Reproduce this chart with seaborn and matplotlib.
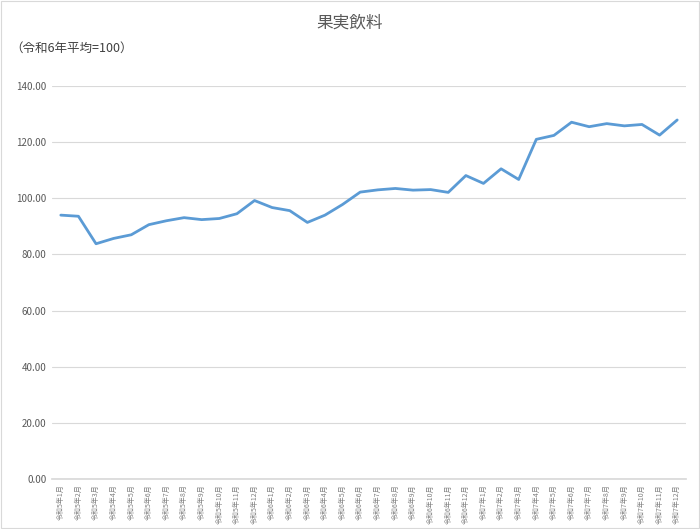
import numpy as np
import pandas as pd
import matplotlib
matplotlib.use("Agg")
import matplotlib.pyplot as plt
import seaborn as sns

# data
months = ([f"令和5年{m}月" for m in range(1, 13)]
          + [f"令和6年{m}月" for m in range(1, 13)]
          + [f"令和7年{m}月" for m in range(1, 13)])
index_values = [94.0, 93.6, 83.8, 85.7, 87.0, 90.6, 92.0, 93.1, 92.4, 92.8, 94.5, 99.2,
                96.7, 95.6, 91.4, 94.0, 97.8, 102.2, 103.0, 103.5, 102.9, 103.1, 102.1, 108.1,
                105.3, 110.5, 106.7, 121.0, 122.4, 127.1, 125.5, 126.6, 125.8, 126.3, 122.5, 127.9]

df = pd.DataFrame({"pos": np.arange(len(months)), "month": months, "value": index_values})

sns.set_theme(style="white")
plt.rcParams['font.family'] = ['Noto Sans CJK JP', 'DejaVu Sans']

fig = plt.figure(figsize=(7, 5.29), dpi=100)
ax = fig.add_axes([52/700, 1 - 479/529, (686-52)/700, (479-86)/529])

sns.lineplot(data=df, x="pos", y="value", color="#5B9BD5", linewidth=2.0, ax=ax)

ax.set_xlim(-0.5, len(months) - 0.5)
ax.set_ylim(0, 140)
ax.set_yticks(np.arange(0, 141, 20))
ax.set_yticklabels([f"{v:.2f}" for v in np.arange(0, 141, 20)], fontsize=7, color="#595959")
ax.set_xticks(df["pos"])
ax.set_xticklabels(months, rotation=90, fontsize=5, color="#7f7f7f")
ax.tick_params(axis="both", length=0, pad=4)
ax.grid(axis="y", color="#d9d9d9", linewidth=0.8)
ax.set_axisbelow(True)
for s in ["top", "right", "left"]:
    ax.spines[s].set_visible(False)
ax.spines["bottom"].set_color("#d9d9d9")
ax.set_xlabel("")
ax.set_ylabel("")

fig.text(0.5, 1 - 23/529, "果実飲料", ha="center", va="center", fontsize=12, color="#595959")
fig.text(10/700, 1 - 48/529, "（令和6年平均=100）", ha="left", va="center", fontsize=9, color="#404040")

# light frame around the chart
fig.patches.append(plt.Rectangle((0.001, 0.001), 0.998, 0.998, transform=fig.transFigure,
                                 fill=False, edgecolor="#d9d9d9", linewidth=0.8))

fig.savefig("out.png", dpi=100)
